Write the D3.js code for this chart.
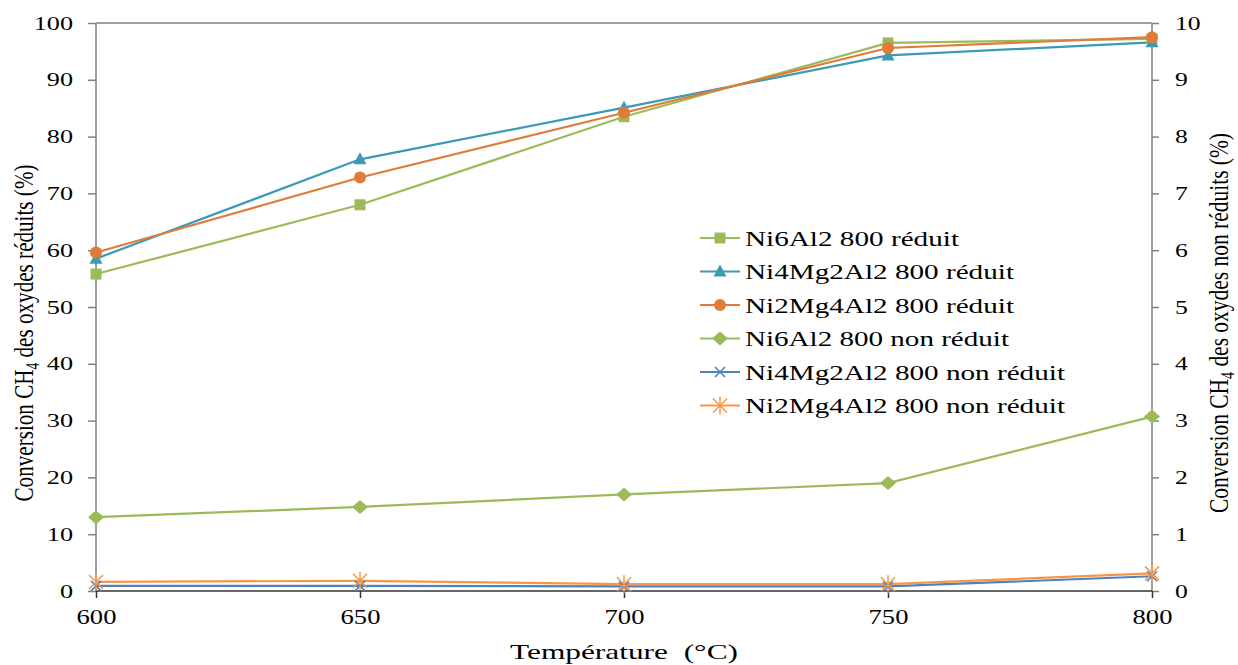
<!DOCTYPE html>
<html><head><meta charset="utf-8">
<script src="https://cdn.jsdelivr.net/npm/d3@7"></script>
<style>body{margin:0;background:#fff}svg{display:block}</style>
</head><body><svg id="c" width="1238" height="665"></svg>
<script>
const temps = [600, 650, 700, 750, 800];
const xTicks = [600, 650, 700, 750, 800];
const leftTicks = [0,10,20,30,40,50,60,70,80,90,100];
const rightTicks = [0,1,2,3,4,5,6,7,8,9,10];
const ni6RedVals = [55.8, 68.0, 83.5, 96.5, 97.2];
const ni4RedVals = [58.5, 76.0, 85.1, 94.3, 96.6];
const ni2RedVals = [59.6, 72.8, 84.2, 95.6, 97.5];
const ni6NonVals = [1.30, 1.48, 1.70, 1.90, 3.07];
const ni4NonVals = [0.09, 0.09, 0.08, 0.08, 0.26];
const ni2NonVals = [0.16, 0.18, 0.12, 0.12, 0.31];
const seriesNames = ["Ni6Al2 800 réduit","Ni4Mg2Al2 800 réduit","Ni2Mg4Al2 800 réduit","Ni6Al2 800 non réduit","Ni4Mg2Al2 800 non réduit","Ni2Mg4Al2 800 non réduit"];
const legendWidths = [214, 269, 269, 264, 320, 320];

const series = [
 {name:seriesNames[0], vals:ni6RedVals, axis:"L", color:"#9BBB59", marker:"square"},
 {name:seriesNames[1], vals:ni4RedVals, axis:"L", color:"#3C9AB6", marker:"triangle"},
 {name:seriesNames[2], vals:ni2RedVals, axis:"L", color:"#E07C3A", marker:"circle"},
 {name:seriesNames[3], vals:ni6NonVals, axis:"R", color:"#9BBB59", marker:"diamond"},
 {name:seriesNames[4], vals:ni4NonVals, axis:"R", color:"#4F81BD", marker:"x"},
 {name:seriesNames[5], vals:ni2NonVals, axis:"R", color:"#F79646", marker:"star"}
];

const FONT = '"Liberation Serif", "Times New Roman", Tinos, serif';
const svg = d3.select("#c");
const L=96, R=1152, T=23, B=591;
const x = d3.scaleLinear().domain([600,800]).range([L,R]);
const yL = d3.scaleLinear().domain([0,100]).range([B,T]);
const yR = d3.scaleLinear().domain([0,10]).range([B,T]);

function serif(sel, size){ sel.attr("font-family","Liberation Serif").style("font-family",FONT).style("font-size",size+"px").attr("fill","#000"); return sel; }
function stretch(sel, f){ sel.each(function(){ const w=this.getComputedTextLength(); d3.select(this).attr("textLength",w*f).attr("lengthAdjust","spacingAndGlyphs"); }); }

// top border
svg.append("line").attr("x1",L).attr("x2",R).attr("y1",T).attr("y2",T).attr("stroke","#808080").attr("stroke-width",1.5);

const axL = svg.append("g").attr("transform",`translate(${L},0)`).call(d3.axisLeft(yL).tickValues(leftTicks).tickSize(8).tickPadding(15));
const axR = svg.append("g").attr("transform",`translate(${R},0)`).call(d3.axisRight(yR).tickValues(rightTicks).tickSize(7).tickPadding(16));
const axB = svg.append("g").attr("transform",`translate(0,${B})`).call(d3.axisBottom(x).tickValues(xTicks).tickSize(7).tickPadding(12));
[axL,axR].forEach(a=>{a.selectAll("path,line").attr("stroke","#808080").attr("stroke-width",1.5);});
axB.selectAll("path,line").attr("stroke","#333").attr("stroke-width",1.5);
axB.select("path").attr("d",`M${L},0H${R}`);
axL.select("path").attr("d",`M0,${B}V${T}`);
axR.select("path").attr("d",`M0,${B}V${T}`);
[axL,axR,axB].forEach(a=>a.attr("font-family",null));
serif(axL.selectAll(".tick text"),19); stretch(axL.selectAll(".tick text"),1.38);
serif(axR.selectAll(".tick text"),19); stretch(axR.selectAll(".tick text"),1.35);
serif(axB.selectAll(".tick text"),20); stretch(axB.selectAll(".tick text"),1.33);

function drawMarker(g, type, cx, cy, color){
  const s = g.append("g").attr("transform",`translate(${cx},${cy})`);
  if(type==="square") s.append("rect").attr("x",-5.5).attr("y",-5.5).attr("width",11).attr("height",11).attr("fill",color);
  else if(type==="triangle") s.append("path").attr("d","M0,-7L6.5,5L-6.5,5Z").attr("fill",color);
  else if(type==="circle") s.append("circle").attr("r",6).attr("fill",color);
  else if(type==="diamond") s.append("path").attr("d","M0,-7L8,0L0,7L-8,0Z").attr("fill",color);
  else if(type==="x") s.append("path").attr("d","M-5,-5L5,5M-5,5L5,-5").attr("stroke",color).attr("stroke-width",1.5);
  else if(type==="star") s.append("path").attr("d","M-7,-7L7,7M-7,7L7,-7M0,-9V9").attr("stroke",color).attr("stroke-width",1.5);
}

const line = (ys)=>d3.line().x((d,i)=>x(temps[i])).y(d=>ys(d));
series.forEach(s=>{
  const ys = s.axis==="L"?yL:yR;
  svg.append("path").datum(s.vals).attr("d",line(ys)).attr("fill","none").attr("stroke",s.color).attr("stroke-width",2.2);
});
series.forEach(s=>{
  const ys = s.axis==="L"?yL:yR;
  const g = svg.append("g");
  s.vals.forEach((v,i)=>drawMarker(g,s.marker,x(temps[i]),ys(v),s.color));
});

// legend
const lg = svg.append("g");
series.forEach((s,i)=>{
  const yy = 238 + i*33.5;
  lg.append("line").attr("x1",700).attr("x2",740).attr("y1",yy).attr("y2",yy).attr("stroke",s.color).attr("stroke-width",2.2);
  drawMarker(lg,s.marker,720,yy,s.color);
  serif(lg.append("text").attr("x",745).attr("y",yy+7.5),22).text(s.name)
    .attr("textLength",legendWidths[i]).attr("lengthAdjust","spacingAndGlyphs");
});

// axis titles
serif(svg.append("text").attr("x",624).attr("y",659).attr("text-anchor","middle"),22)
  .text("Température  (°C)").attr("textLength",228).attr("lengthAdjust","spacingAndGlyphs").style("white-space","pre");

function yTitle(cx, cy, main, rest, len){
  const t = serif(svg.append("text").attr("transform",`translate(${cx},${cy}) rotate(-90)`).attr("text-anchor","middle"),28);
  t.append("tspan").text(main);
  t.append("tspan").attr("dy",6).style("font-size","18px").text("4");
  t.append("tspan").attr("dy",-6).text(rest);
  t.attr("textLength",len).attr("lengthAdjust","spacingAndGlyphs");
}
yTitle(33, 333, "Conversion CH", " des oxydes réduits (%)", 337);
yTitle(1228, 323, "Conversion CH", " des oxydes non réduits (%)", 380);
</script></body></html>
